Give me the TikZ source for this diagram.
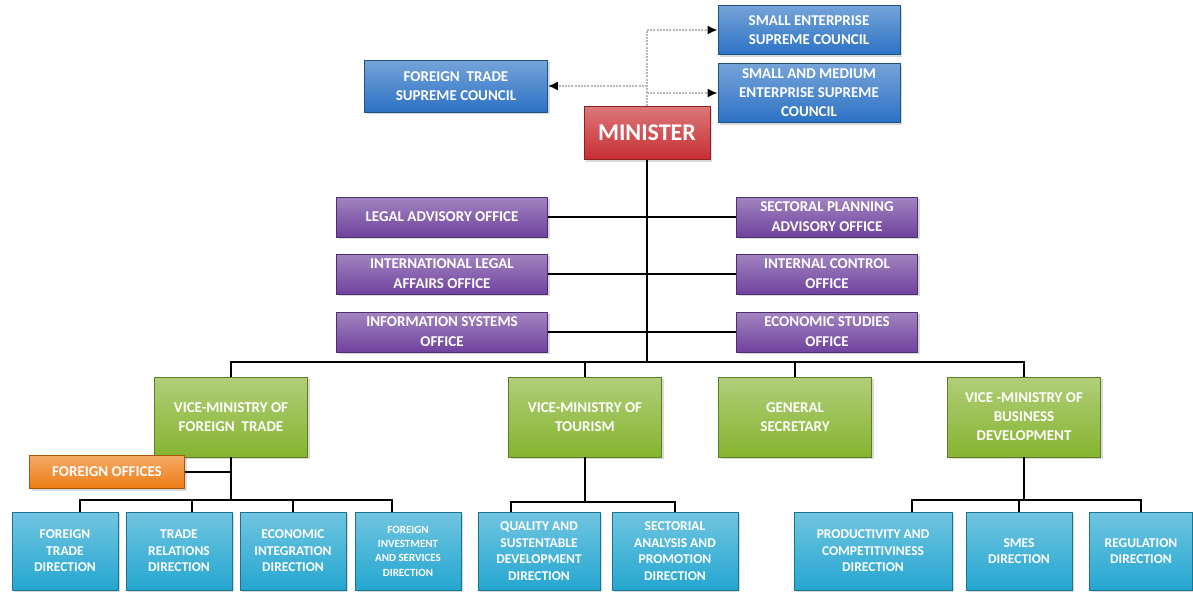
\documentclass[tikz,border=0pt]{standalone}
\usepackage{fontspec}
\setmainfont{Carlito}
\usetikzlibrary{arrows.meta, shadows}

\definecolor{councilblue}{RGB}{44,114,196}
\definecolor{ministerred}{RGB}{200,46,50}
\definecolor{officepurple}{RGB}{112,66,158}
\definecolor{vicegreen}{RGB}{134,180,48}
\definecolor{auxorange}{RGB}{238,124,20}
\definecolor{dircyan}{RGB}{36,166,208}

\begin{document}
\begin{tikzpicture}[
    x=1pt, y=-1pt,
    >=Latex,
    orgbox/.style={draw=#1!70!black, line width=0.6pt, top color=#1!65!white, bottom color=#1, text=white, align=center, inner sep=2pt, font=\fontsize{15}{19}\selectfont\bfseries, drop shadow={shadow xshift=2pt, shadow yshift=-2pt, opacity=0.3}},
    orgtop/.style={orgbox=councilblue, minimum width=182pt},
    orgmin/.style={orgbox=ministerred, minimum width=126pt, minimum height=53pt, font=\fontsize{24}{28}\selectfont\bfseries},
    orgoffice/.style={orgbox=officepurple, minimum height=40pt, font=\fontsize{15}{20}\selectfont\bfseries},
    orgvice/.style={orgbox=vicegreen, minimum width=153pt, minimum height=80pt},
    orgaux/.style={orgbox=auxorange, minimum width=155pt, minimum height=33pt},
    orgdir/.style={orgbox=dircyan, minimum height=78pt, font=\fontsize{13.5}{16.5}\selectfont\bfseries},
    orgline/.style={line width=2.6pt, black},
    orgdot/.style={draw=gray!55, line width=2.6pt, dash pattern=on 2pt off 1.2pt, -{Latex[color=black, length=10pt, width=9pt]}}
]
\useasboundingbox (0,0) rectangle (1193,592);

% councils and minister
\node[orgtop, minimum height=49pt] (sesc) at (809,30) {SMALL ENTERPRISE\\SUPREME COUNCIL};
\node[orgtop, minimum height=59pt] (smesc) at (809,93) {SMALL AND MEDIUM\\ENTERPRISE SUPREME\\COUNCIL};
\node[orgtop, minimum width=183pt, minimum height=52pt] (ftsc) at (456,86) {FOREIGN\ \ TRADE\\SUPREME COUNCIL};
\node[orgmin] (min) at (647,133) {MINISTER};

\coordinate (dtop) at (647,30);
\draw[orgdot, -] (min.north) -- (dtop);
\draw[orgdot] (dtop) -- (sesc.west);
\draw[orgdot] (min.north |- smesc.west) -- (smesc.west);
\draw[orgdot] (min.north |- ftsc.east) -- (ftsc.east);

% advisory offices
\node[orgoffice, minimum width=211pt] (lao) at (442,217) {LEGAL ADVISORY OFFICE};
\node[orgoffice, minimum width=211pt] (ilao) at (442,274) {INTERNATIONAL LEGAL\\AFFAIRS OFFICE};
\node[orgoffice, minimum width=211pt] (iso) at (442,332) {INFORMATION SYSTEMS\\OFFICE};
\node[orgoffice, minimum width=181pt] (spao) at (827,217) {SECTORAL PLANNING\\ADVISORY OFFICE};
\node[orgoffice, minimum width=181pt] (ico) at (827,274) {INTERNAL CONTROL\\OFFICE};
\node[orgoffice, minimum width=181pt] (eso) at (827,332) {ECONOMIC STUDIES\\OFFICE};

\draw[orgline] (lao.east) -- (spao.west);
\draw[orgline] (ilao.east) -- (ico.west);
\draw[orgline] (iso.east) -- (eso.west);

% vice-ministries
\node[orgvice] (vmft) at (231,417) {VICE-MINISTRY OF\\FOREIGN\ \ TRADE};
\node[orgvice] (vmt) at (585,417) {VICE-MINISTRY OF\\TOURISM};
\node[orgvice] (gs) at (795,417) {GENERAL\\SECRETARY};
\node[orgvice] (vmbd) at (1024,417) {VICE -MINISTRY OF\\BUSINESS\\DEVELOPMENT};
\node[orgaux] (fo) at (107,472) {FOREIGN OFFICES};

\coordinate (bus) at (647,362);
\draw[orgline] (min.south) -- (bus);
\draw[orgline] (vmft.north) |- (bus) -| (vmbd.north);
\draw[orgline] (vmt.north) -- (vmt.north |- bus);
\draw[orgline] (gs.north) -- (gs.north |- bus);
\draw[orgline] (fo.east) -- (fo.east -| vmft.south);

% directions
\node[orgdir, minimum width=106pt] (ftd) at (65,551) {FOREIGN\\TRADE\\DIRECTION};
\node[orgdir, minimum width=106pt] (trd) at (179,551) {TRADE\\RELATIONS\\DIRECTION};
\node[orgdir, minimum width=106pt] (eid) at (293,551) {ECONOMIC\\INTEGRATION\\DIRECTION};
\node[orgdir, minimum width=106pt, font=\fontsize{11}{14.3}\selectfont\bfseries] (fisd) at (408,551) {FOREIGN\\INVESTMENT\\AND SERVICES\\DIRECTION};
\node[orgdir, minimum width=122pt] (qsd) at (539,551) {QUALITY AND\\SUSTENTABLE\\DEVELOPMENT\\DIRECTION};
\node[orgdir, minimum width=126pt] (sapd) at (675,551) {SECTORIAL\\ANALYSIS AND\\PROMOTION\\DIRECTION};
\node[orgdir, minimum width=158pt] (pcd) at (873,551) {PRODUCTIVITY AND\\COMPETITIVINESS\\DIRECTION};
\node[orgdir, minimum width=106pt] (smed) at (1019,551) {SMES\\DIRECTION};
\node[orgdir, minimum width=103pt] (regd) at (1141,551) {REGULATION\\DIRECTION};

\coordinate (ftbus) at (231,500);
\draw[orgline] (vmft.south) -- (ftbus);
\draw[orgline] ([xshift=15]ftd.north) |- (ftbus) -| ([xshift=-16]fisd.north);
\draw[orgline] ([xshift=13]trd.north) -- ([xshift=13]trd.north |- ftbus);
\draw[orgline] (eid.north) -- (eid.north |- ftbus);

\coordinate (tbus) at (585,502);
\draw[orgline] (vmt.south) -- (tbus);
\draw[orgline] ([xshift=-28]qsd.north) |- (tbus) -| (sapd.north);

\coordinate (bdbus) at (1024,500);
\draw[orgline] (vmbd.south) -- (bdbus);
\draw[orgline] ([xshift=39]pcd.north) |- (bdbus) -| (regd.north);
\draw[orgline] (smed.north) -- (smed.north |- bdbus);

\end{tikzpicture}
\end{document}
